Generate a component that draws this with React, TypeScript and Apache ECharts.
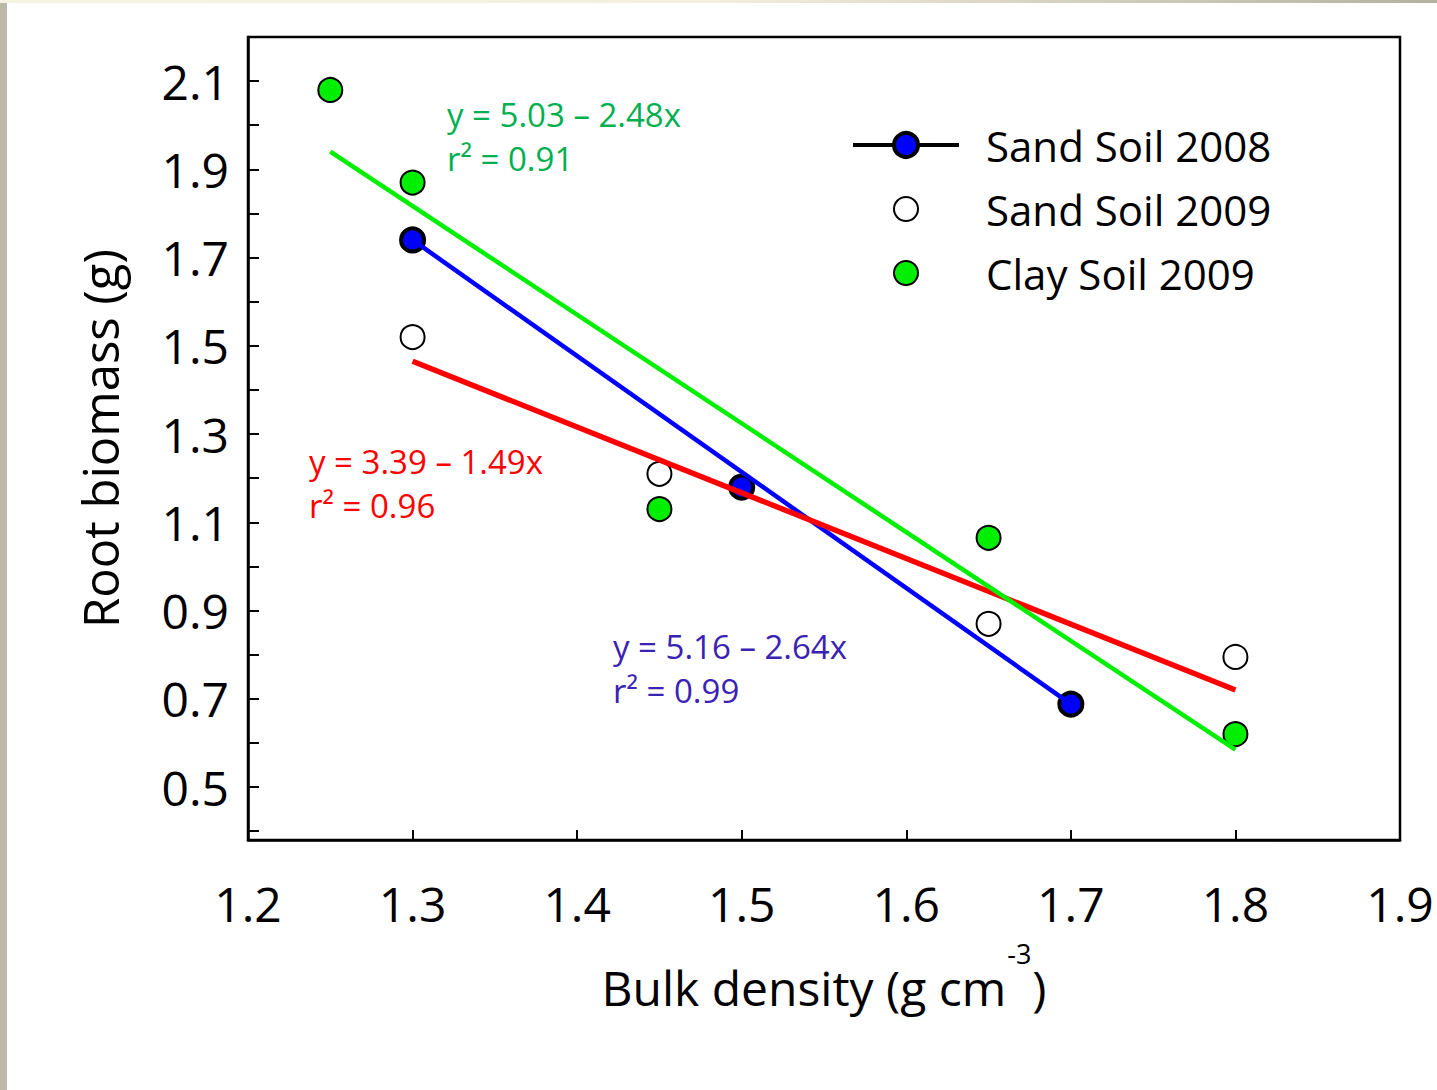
import React, { useEffect, useRef } from "react";
import * as echarts from "echarts";

// ---- tick values ----
const xTickValues = [1.2, 1.3, 1.4, 1.5, 1.6, 1.7, 1.8, 1.9];
const yTickValues = [0.4, 0.5, 0.6, 0.7, 0.8, 0.9, 1.0, 1.1, 1.2, 1.3, 1.4, 1.5, 1.6, 1.7, 1.8, 1.9, 2.0, 2.1];
const yLabelValues = [0.5, 0.7, 0.9, 1.1, 1.3, 1.5, 1.7, 1.9, 2.1];

// ---- observations [bulk density, root biomass] ----
const sandSoil2008 = [
  [1.3, 1.74],
  [1.5, 1.18],
  [1.7, 0.688],
];
const sandSoil2009 = [
  [1.3, 1.52],
  [1.45, 1.21],
  [1.65, 0.87],
  [1.8, 0.795],
];
const claySoil2009 = [
  [1.25, 2.08],
  [1.3, 1.87],
  [1.45, 1.13],
  [1.65, 1.065],
  [1.8, 0.62],
];

// ---- regression line end points ----
const fitSand2008 = [
  [1.3, 1.74],
  [1.7, 0.688],
];
const fitSand2009 = [
  [1.3, 1.465],
  [1.8, 0.72],
];
const fitClay2009 = [
  [1.25, 1.94],
  [1.8, 0.585],
];

const FONT = "Open Sans";
const BLUE = "#0000ff";
const GREEN = "#00ee00";
const RED = "#ff0000";
const EQ_GREEN = "#00b050";
const EQ_BLUE = "#3a22b4";

// small circle icon padded inside a 30x30 box
const PADDED_CIRCLE = "path://M0,0M30,30M27,15A12,12,0,1,1,3,15A12,12,0,1,1,27,15Z";

export default function App() {
  const ref = useRef<HTMLDivElement>(null);

  useEffect(() => {
    if (!ref.current) return;
    const chart = echarts.init(ref.current, null, { renderer: "svg" });

    const eqText = (x: number, y: number, text: string, color: string) => ({
      type: "text",
      x,
      y,
      style: {
        text,
        fill: color,
        font: `33px '${FONT}'`,
        verticalAlign: "middle",
        align: "left",
      },
      z: 10,
    });

    const option: any = {
      animation: false,
      backgroundColor: "#ffffff",
      textStyle: { fontFamily: FONT },
      grid: {
        left: 248,
        right: 37,
        top: 37,
        bottom: 250,
        show: true,
        borderColor: "#000",
        borderWidth: 2.5,
        backgroundColor: "transparent",
      },
      legend: {
        orient: "vertical",
        left: 851,
        top: 124,
        padding: 0,
        itemWidth: 106,
        itemHeight: 30,
        itemGap: 22,
        selectedMode: false,
        textStyle: {
          fontFamily: FONT,
          fontSize: 42,
          color: "#000",
          padding: [0, 0, 0, 22],
        },
        data: [
          {
            name: "Sand Soil 2008",
            itemStyle: { color: BLUE, borderColor: "#000", borderWidth: 4 },
            lineStyle: { color: "#000", width: 4, opacity: 1 },
          },
          {
            name: "Sand Soil 2009",
            icon: PADDED_CIRCLE,
            itemStyle: { color: "#fff", borderColor: "#000", borderWidth: 2 },
          },
          {
            name: "Clay Soil 2009",
            icon: PADDED_CIRCLE,
            itemStyle: { color: GREEN, borderColor: "#000", borderWidth: 2 },
          },
        ],
      },
      xAxis: {
        type: "value",
        min: 1.2,
        max: 1.9,
        name: "{n|Bulk density (g cm}{s|-3}{n|)}",
        nameLocation: "middle",
        nameGap: 100,
        nameTextStyle: {
          rich: {
            n: { fontFamily: FONT, fontSize: 48, lineHeight: 48, color: "#000", verticalAlign: "bottom" },
            s: {
              fontFamily: FONT,
              fontSize: 27,
              color: "#000",
              verticalAlign: "top",
              padding: [0, 1, 44, 1],
            },
          },
        },
        axisLine: { show: true, lineStyle: { color: "#000", width: 2.5 } },
        axisTick: {
          show: true,
          inside: true,
          length: 10,
          customValues: xTickValues,
          lineStyle: { color: "#000", width: 2 },
        },
        axisLabel: {
          customValues: xTickValues,
          formatter: (v: number) => v.toFixed(1),
          fontFamily: FONT,
          fontSize: 48,
          color: "#000",
          margin: 39,
        },
        splitLine: { show: false },
      },
      yAxis: {
        type: "value",
        min: 0.38,
        max: 2.2,
        name: "Root biomass (g)",
        nameLocation: "middle",
        nameGap: 124,
        nameTextStyle: { fontFamily: FONT, fontSize: 49, color: "#000" },
        axisLine: { show: true, lineStyle: { color: "#000", width: 2.5 } },
        axisTick: {
          show: true,
          inside: true,
          length: 11,
          customValues: yTickValues,
          lineStyle: { color: "#000", width: 2 },
        },
        axisLabel: {
          customValues: yLabelValues,
          formatter: (v: number) => v.toFixed(1),
          fontFamily: FONT,
          fontSize: 48,
          color: "#000",
          margin: 19,
        },
        splitLine: { show: false },
      },
      graphic: [
        {
          type: "rect",
          shape: { x: 0, y: 0, width: 7, height: 1090 },
          style: { fill: "#bcb9a9" },
          z: -10,
        },
        {
          type: "rect",
          shape: { x: 0, y: 0, width: 1437, height: 3 },
          style: {
            fill: new echarts.graphic.LinearGradient(0, 0, 1, 0, [
              { offset: 0, color: "#f6f3e2" },
              { offset: 0.5, color: "#f3efdc" },
              { offset: 1, color: "#b5b19f" },
            ]),
          },
          z: -10,
        },
        eqText(447, 114, "y = 5.03 – 2.48x", EQ_GREEN),
        eqText(447, 158, "r² = 0.91", EQ_GREEN),
        eqText(309, 461, "y = 3.39 – 1.49x", RED),
        eqText(309, 505, "r² = 0.96", RED),
        eqText(613, 646, "y = 5.16 – 2.64x", EQ_BLUE),
        eqText(613, 690, "r² = 0.99", EQ_BLUE),
      ],
      series: [
        {
          name: "Sand Soil 2008",
          type: "line",
          data: sandSoil2008,
          symbol: "circle",
          symbolSize: 23,
          showSymbol: true,
          lineStyle: { width: 0, opacity: 0 },
          itemStyle: { color: BLUE, borderColor: "#000", borderWidth: 4 },
          z: 2,
        },
        {
          name: "Sand Soil 2009",
          type: "scatter",
          data: sandSoil2009,
          symbol: "circle",
          symbolSize: 24,
          itemStyle: { color: "#fff", borderColor: "#000", borderWidth: 2, opacity: 1 },
          z: 2,
        },
        {
          name: "Clay Soil 2009",
          type: "scatter",
          data: claySoil2009,
          symbol: "circle",
          symbolSize: 24,
          itemStyle: { color: GREEN, borderColor: "#000", borderWidth: 2, opacity: 1 },
          z: 2,
        },
        {
          name: "fit2008",
          type: "line",
          data: fitSand2008,
          symbol: "none",
          lineStyle: { color: BLUE, width: 4.5 },
          z: 5,
        },
        {
          name: "fit2009",
          type: "line",
          data: fitSand2009,
          symbol: "none",
          lineStyle: { color: RED, width: 5.5 },
          z: 5,
        },
        {
          name: "fitClay",
          type: "line",
          data: fitClay2009,
          symbol: "none",
          lineStyle: { color: GREEN, width: 4.5 },
          z: 5,
        },
      ],
    };

    chart.setOption(option);
    return () => chart.dispose();
  }, []);

  return (
    <div
      style={{
        position: "fixed",
        left: 0,
        top: 0,
        width: 1437,
        height: 1090,
        background: "#fff",
      }}
    >
      <div ref={ref} style={{ width: 1437, height: 1090 }} />
    </div>
  );
}
